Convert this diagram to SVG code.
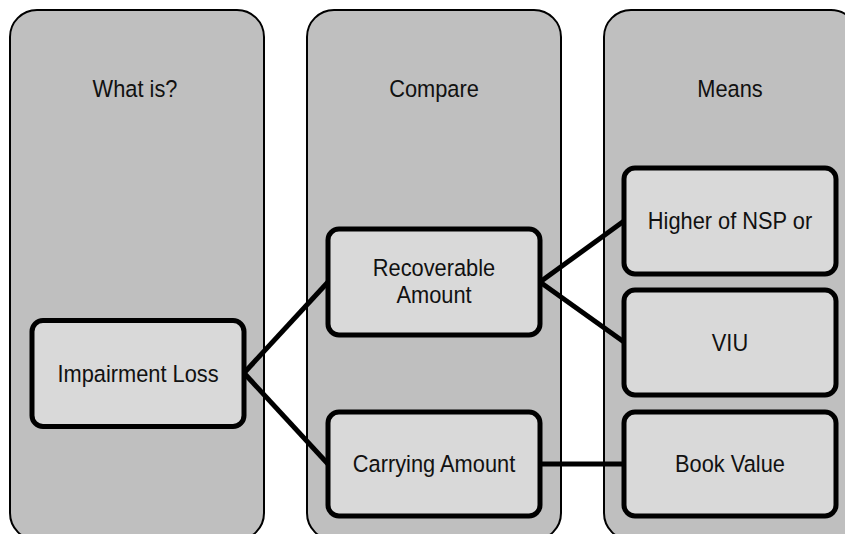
<svg xmlns="http://www.w3.org/2000/svg" width="845" height="534" viewBox="0 0 845 534">
  <style>
    .col { fill: #bfbfbf; stroke: #000; stroke-width: 2; }
    .node { fill: #d9d9d9; stroke: #000; stroke-width: 5; }
    .lbl { font-family: "Liberation Sans", Arial, sans-serif; font-size: 24.5px; fill: #111; text-anchor: middle; }
    .conn { stroke: #000; stroke-width: 5; fill: none; }
  </style>
  <g id="columns">
    <g id="col-what">
      <rect class="col" x="10" y="10" width="254" height="530" rx="27" ry="27"/>
      <text class="lbl" transform="translate(135 97) scale(0.89 1)">What is?</text>
    </g>
    <g id="col-compare">
      <rect class="col" x="307" y="10" width="254" height="530" rx="27" ry="27"/>
      <text class="lbl" transform="translate(434 97) scale(0.89 1)">Compare</text>
    </g>
    <g id="col-means">
      <rect class="col" x="604" y="10" width="254" height="530" rx="27" ry="27"/>
      <text class="lbl" transform="translate(730 97) scale(0.89 1)">Means</text>
    </g>
  </g>
  <g id="connectors">
    <line class="conn" x1="244" y1="373" x2="328" y2="282"/>
    <line class="conn" x1="244" y1="373" x2="328" y2="464"/>
    <line class="conn" x1="540" y1="282" x2="624" y2="221"/>
    <line class="conn" x1="540" y1="282" x2="624" y2="342"/>
    <line class="conn" x1="540" y1="464" x2="624" y2="464"/>
  </g>
  <g id="impairment-loss">
    <rect class="node" x="32" y="320.5" width="212" height="106" rx="11" ry="11"/>
    <text class="lbl" transform="translate(138 382) scale(0.89 1)">Impairment Loss</text>
  </g>
  <g id="recoverable-amount">
    <rect class="node" x="328" y="229" width="212" height="106" rx="11" ry="11"/>
    <text class="lbl" transform="translate(434 276) scale(0.89 1)">Recoverable</text>
    <text class="lbl" transform="translate(434 303) scale(0.89 1)">Amount</text>
  </g>
  <g id="carrying-amount">
    <rect class="node" x="328" y="412" width="212" height="104" rx="11" ry="11"/>
    <text class="lbl" transform="translate(434 472) scale(0.89 1)">Carrying Amount</text>
  </g>
  <g id="higher-of-nsp">
    <rect class="node" x="624" y="168" width="212" height="106" rx="11" ry="11"/>
    <text class="lbl" transform="translate(730 229) scale(0.89 1)">Higher of NSP or</text>
  </g>
  <g id="viu">
    <rect class="node" x="624" y="290" width="212" height="105" rx="11" ry="11"/>
    <text class="lbl" transform="translate(730 351) scale(0.89 1)">VIU</text>
  </g>
  <g id="book-value">
    <rect class="node" x="624" y="412" width="212" height="104" rx="11" ry="11"/>
    <text class="lbl" transform="translate(730 472) scale(0.89 1)">Book Value</text>
  </g>
</svg>
